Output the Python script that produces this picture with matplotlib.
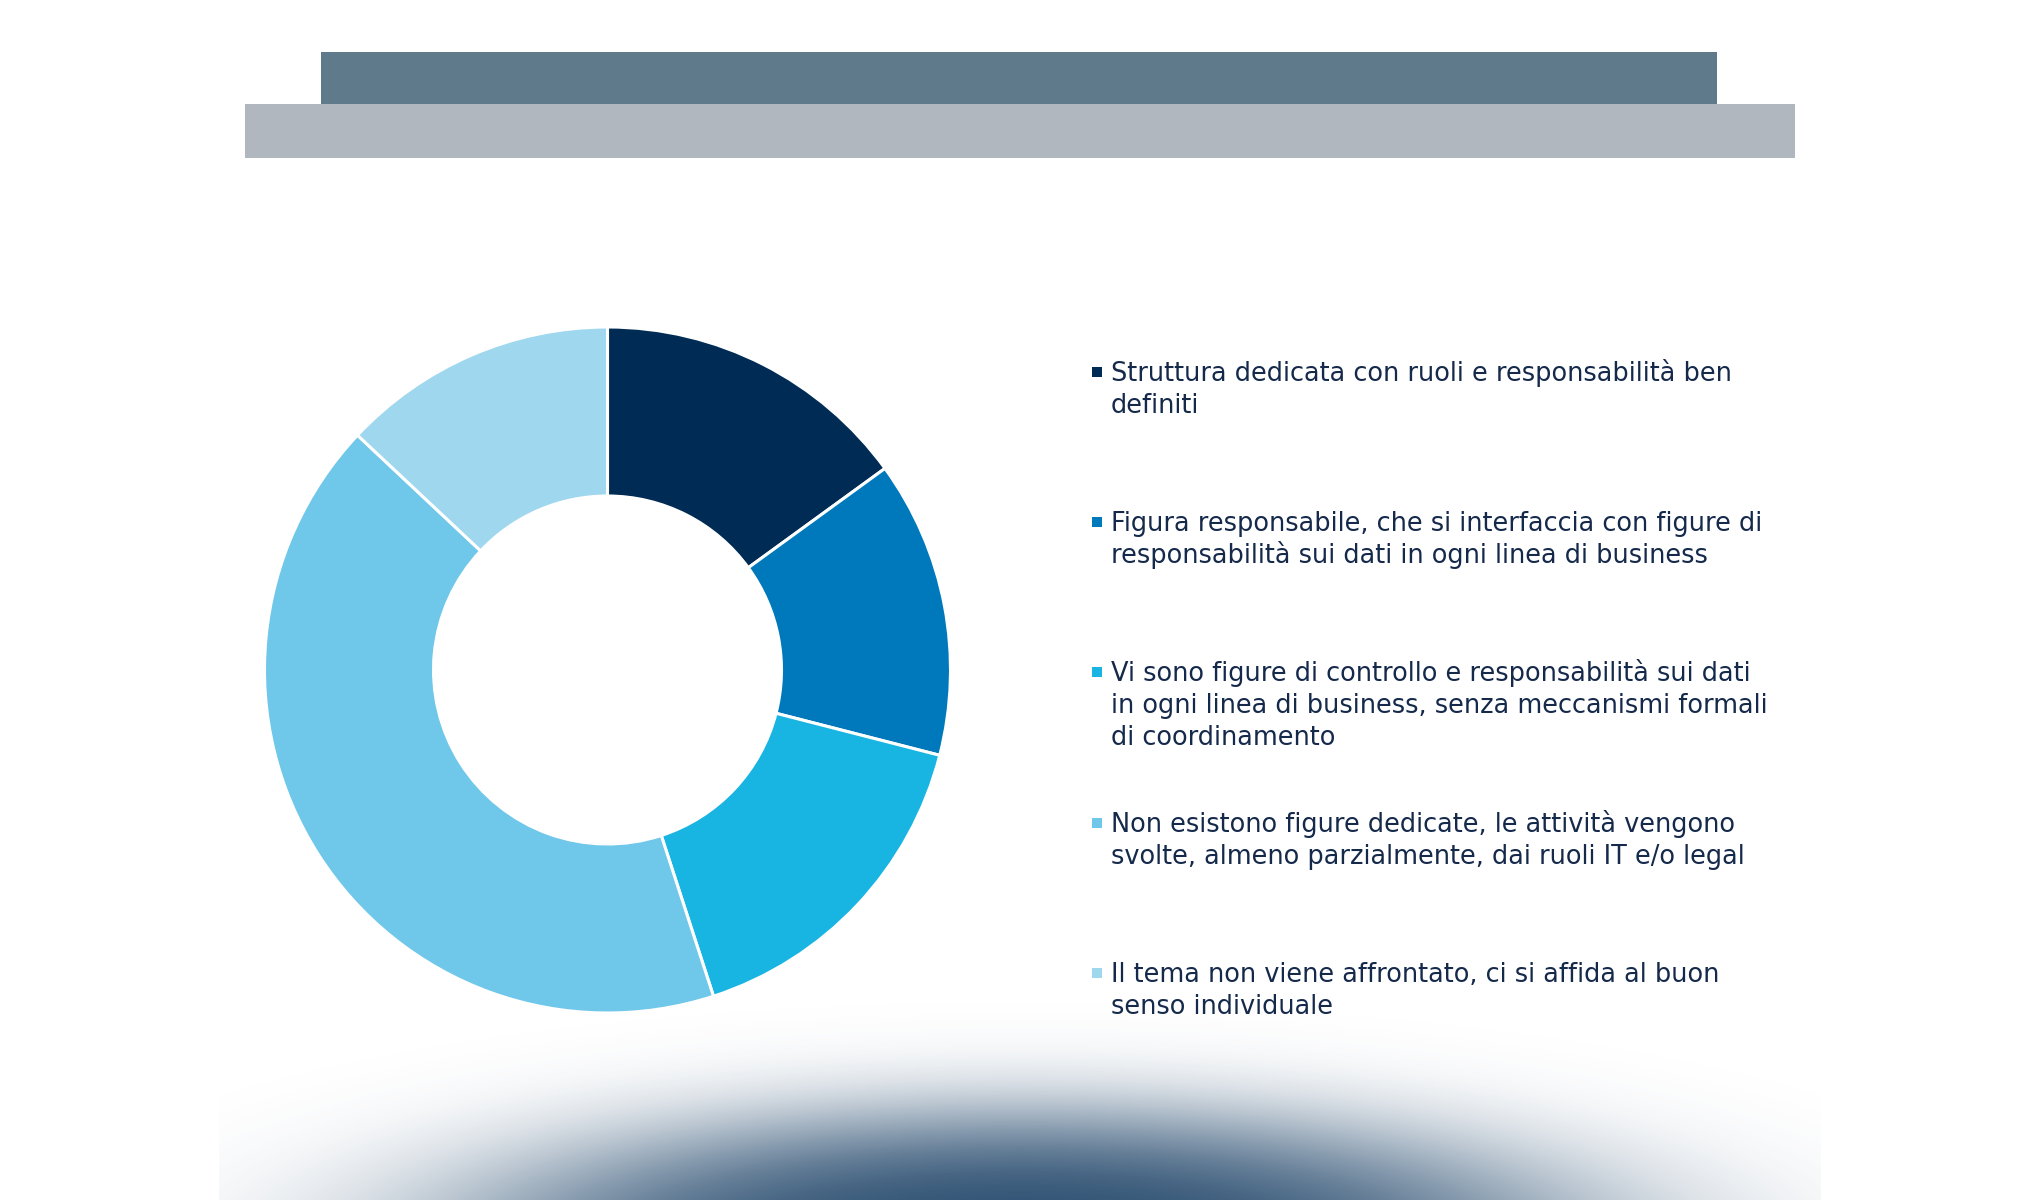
import math
import numpy as np
import matplotlib
matplotlib.use("Agg")
import matplotlib.pyplot as plt
from matplotlib.patches import Rectangle
from matplotlib.font_manager import FontProperties

# ---------------- data ----------------
categories = [
    "Struttura dedicata con ruoli e responsabilità ben\ndefiniti",
    "Figura responsabile, che si interfaccia con figure di\nresponsabilità sui dati in ogni linea di business",
    "Vi sono figure di controllo e responsabilità sui dati\nin ogni linea di business, senza meccanismi formali\ndi coordinamento",
    "Non esistono figure dedicate, le attività vengono\nsvolte, almeno parzialmente, dai ruoli IT e/o legal",
    "Il tema non viene affrontato, ci si affida al buon\nsenso individuale",
]
values = [15, 14, 16, 42, 13]
colors = ["#002B55", "#0079BC", "#18B4E2", "#6FC7EA", "#9FD7EF"]

W, H = 2040, 1200
DPI = 100
fig = plt.figure(figsize=(W / DPI, H / DPI), dpi=DPI)
fig.patch.set_facecolor("white")

# ---------------- background glow (bottom): blurred ellipse ----------------
bg = fig.add_axes([0, 0, 1, 1], zorder=0)
bg.set_xlim(0, W)
bg.set_ylim(H, 0)
bg.axis("off")
gx0, gx1, gy0, gy1 = 219, 1821, 960, 1200
xs = np.arange(gx0, gx1) + 0.5
ys = np.arange(gy0, gy1) + 0.5
XX, YY = np.meshgrid(xs, ys)
cx, cy, k, Rc, sig = 1021, 1245, 4.2, 123, 45
rho = np.sqrt(((XX - cx) / k) ** 2 + (YY - cy) ** 2)
erfc = np.vectorize(math.erfc)
alpha = 0.5 * erfc((rho - Rc) / (sig * math.sqrt(2)))
rgba = np.zeros(XX.shape + (4,))
base = matplotlib.colors.to_rgb("#2C4F71")
rgba[..., 0], rgba[..., 1], rgba[..., 2] = base
rgba[..., 3] = np.clip(alpha, 0, 1)
bg.imshow(rgba, extent=(gx0, gx1, gy1, gy0), interpolation="bilinear", aspect="auto")

# ---------------- header bars ----------------
bg.add_patch(Rectangle((321, 52), 1717 - 321, 52, facecolor="#5E7A8B", edgecolor="none"))
bg.add_patch(Rectangle((245, 104), 1795 - 245, 54, facecolor="#B0B7BE", edgecolor="none"))

# ---------------- donut ----------------
ccx, ccy, R = 607.5, 670, 343
ax = fig.add_axes([(ccx - R) / W, (H - ccy - R) / H, 2 * R / W, 2 * R / H], zorder=2)
ax.pie(values, colors=colors, startangle=90, counterclock=False, radius=1,
       wedgeprops=dict(width=1 - 174 / 343, edgecolor="white", linewidth=2.2))
ax.set_xlim(-1, 1)
ax.set_ylim(-1, 1)
ax.set_aspect("equal")
ax.axis("off")

# ---------------- legend ----------------
font_family = ["DejaVu Sans"]
text_color = "#15294B"
fp = FontProperties(family=font_family, size=18)
renderer = fig.canvas.get_renderer()
t = fig.text(0, 0, categories[0].split("\n")[0], fontproperties=fp)
wpx = t.get_window_extent(renderer=renderer).width
t.remove()
fsize = 18 * 623 / wpx

first_base = [381, 531, 681, 832, 982]
line_gap = 32
text_x = 1111
for lab, col, yb in zip(categories, colors, first_base):
    bg.add_patch(Rectangle((1092, yb - 14), 10, 10, facecolor=col, edgecolor="none"))
    for i, line in enumerate(lab.split("\n")):
        bg.text(text_x, yb + i * line_gap, line, family=font_family, size=fsize,
                color=text_color, va="baseline", ha="left")

fig.savefig("out.png", dpi=DPI, facecolor="white")
